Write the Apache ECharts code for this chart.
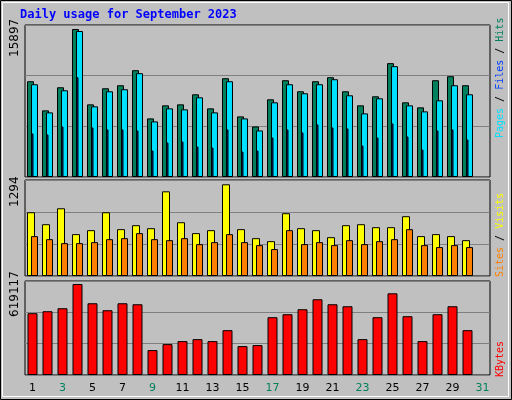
<!DOCTYPE html>
<html>
<head>
<meta charset="utf-8">
<script src="https://cdn.jsdelivr.net/npm/echarts@6/dist/echarts.min.js"></script>
<style>
  html, body { margin: 0; padding: 0; background: #c0c0c0; }
  #chart { width: 512px; height: 400px; }
</style>
</head>
<body>
<div id="chart"></div>
<script>
// daily usage, September 2023
const days = ['1','2','3','4','5','6','7','8','9','10','11','12','13','14','15','16','17','18','19','20','21','22','23','24','25','26','27','28','29','30','31']
const weekend = ['2','3','9','10','16','17','23','24','30','31']
const hits = [10287,7158,9640,15897,7805,9532,9856,11474,6295,7697,7805,8885,7374,10611,6511,5431,8345,10395,9208,10287,10719,9208,7697,8669,12230,8021,7482,10395,10827,9856]
const files = [9964,6942,9316,15683,7590,9208,9424,11151,5971,7374,7266,8561,6942,10287,6295,5000,8021,9964,8993,9964,10503,8777,6834,8453,11906,7697,7050,8237,9856,8885]
const pages = [4676,4568,5431,10719,5324,5108,5108,5000,2842,3705,3813,3273,3165,5108,2734,2842,4244,5108,4784,5647,5324,5216,3381,4244,5755,4352,2950,5000,5108,4029]
const visits = [900,731,956,591,647,900,661,717,675,1195,759,605,647,1294,661,534,492,886,675,647,548,717,731,689,689,844,563,591,563,506]
const sites = [563,520,464,464,478,520,534,605,520,506,534,450,478,591,478,436,380,647,450,478,436,506,450,492,520,661,436,408,436,408]
const kbytes = [420286,433843,454179,619117,488073,440622,488073,481294,169470,210143,230479,244037,230479,305046,196585,203364,393170,413507,447401,515189,481294,467737,244037,393170,555862,399949,230479,413507,467737,305046]

const chart = echarts.init(document.getElementById('chart'))
const mono = 'DejaVu Sans Mono'
const grids = [
  { left: 25, width: 465, top: 25, height: 152 },
  { left: 25, width: 465, top: 180, height: 96 },
  { left: 25, width: 465, top: 281, height: 94 }
]
const maxes = [16327, 1355, 639527]

const hiddenX = g => ({
  type: 'category', data: days, gridIndex: g,
  axisLine: { show: false }, axisTick: { show: false }, axisLabel: { show: false }
})
// 0: hits/files, 1: pages, 2: visits/sites, 3: kbytes with day labels
const xAxes = [hiddenX(0), hiddenX(0), hiddenX(1), hiddenX(2)]
xAxes[3].axisLabel = {
  show: true, fontFamily: 'DejaVu Sans', fontSize: 11, margin: 8,
  color: v => weekend.indexOf(v) >= 0 ? '#00805c' : '#000'
}

const yAxes = maxes.map((m, i) => ({
  type: 'value', gridIndex: i, min: 0, max: m, interval: m / 3,
  axisLabel: { show: false }, axisLine: { show: false }, axisTick: { show: false },
  splitLine: { lineStyle: { color: '#808080', width: 1 } }
}))

const bar = (name, data, color, w, xi, yi) => ({
  name, type: 'bar', data, xAxisIndex: xi, yAxisIndex: yi, barWidth: w,
  itemStyle: { color, borderColor: '#000', borderWidth: 1 }, silent: true
})

const vtext = (x, y, style) => ({
  type: 'text', x, y, rotation: Math.PI / 2,
  style: Object.assign({ align: 'left', verticalAlign: 'top' }, style)
})

chart.setOption({
  animation: false,
  backgroundColor: '#c0c0c0',
  grid: grids.map(g => Object.assign({ show: true, borderColor: '#000', borderWidth: 1, backgroundColor: 'transparent' }, g)),
  xAxis: xAxes,
  yAxis: yAxes,
  series: [
    Object.assign(bar('Hits', hits, '#00805c', 7, 0, 0), { barGap: '-43%' }),
    bar('Files', files, '#00e0ff', 7, 0, 0),
    Object.assign(bar('Pages', pages, '#0040ff', 2, 1, 0), { barGap: '0%' }),
    Object.assign(bar('Visits', visits, '#ffff00', 8, 2, 1), { barGap: '-50%' }),
    bar('Sites', sites, '#ff8000', 7, 2, 1),
    bar('KBytes', kbytes, '#ff0000', 10, 3, 2)
  ],
  graphic: [
    { type: 'rect', shape: { x: 0.5, y: 0.5, width: 511, height: 399 }, style: { fill: 'none', stroke: '#000', lineWidth: 1 } },
    { type: 'rect', shape: { x: 2.5, y: 2.5, width: 506, height: 394 }, style: { fill: 'none', stroke: '#fff', lineWidth: 1 } },
    { type: 'text', left: 20, top: 9, style: { text: 'Daily usage for September 2023', fill: '#0000ff', font: 'bold 12px ' + mono } },
    vtext(9, 57, { text: '15897', fill: '#000', font: '12px DejaVu Sans' }),
    vtext(9, 207, { text: '1294', fill: '#000', font: '12px DejaVu Sans' }),
    vtext(9, 317, { text: '619117', fill: '#000', font: '12px DejaVu Sans' }),
    vtext(495, 138, {
      text: '{a|Pages}{s| / }{b|Files}{s| / }{c|Hits}',
      rich: { a: { fill: '#00e0ff', font: '10px ' + mono }, b: { fill: '#0040ff', font: '10px ' + mono }, c: { fill: '#00805c', font: '10px ' + mono }, s: { fill: '#000', font: '10px ' + mono } }
    }),
    vtext(495, 277, {
      text: '{a|Sites}{s| / }{b|Visits}',
      rich: { a: { fill: '#ff8000', font: '10px ' + mono }, b: { fill: '#ffff00', font: '10px ' + mono }, s: { fill: '#000', font: '10px ' + mono } }
    }),
    vtext(495, 377, { text: 'KBytes', fill: '#ff0000', font: '10px ' + mono })
  ]
})
</script>
</body>
</html>
